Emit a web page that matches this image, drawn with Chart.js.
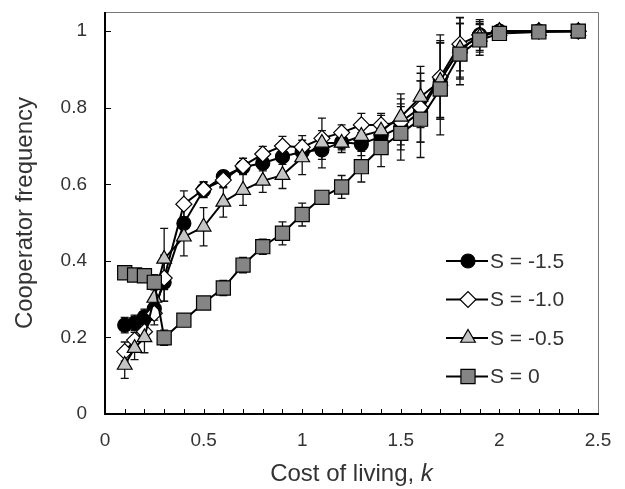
<!DOCTYPE html>
<html>
<head>
<meta charset="utf-8">
<script src="https://cdn.jsdelivr.net/npm/chart.js@4/dist/chart.umd.min.js"></script>
<style>
  html, body { margin: 0; padding: 0; background: #fff; }
</style>
</head>
<body>
<canvas id="chart" width="625" height="489"></canvas>
<script>
const costs = [0.1, 0.15, 0.2, 0.25, 0.3, 0.4, 0.5, 0.6, 0.7, 0.8, 0.9, 1.0, 1.1, 1.2, 1.3, 1.4, 1.5, 1.6, 1.7, 1.8, 1.9, 2.0, 2.2, 2.4];

const freqS15 = [0.232, 0.238, 0.254, 0.275, 0.344, 0.498, 0.585, 0.62, 0.645, 0.655, 0.672, 0.685, 0.69, 0.71, 0.705, 0.725, 0.75, 0.79, 0.875, 0.95, 0.99, 1.0, 1.0, 1.0];
const freqS10 = [0.163, 0.193, 0.215, 0.263, 0.355, 0.548, 0.587, 0.611, 0.648, 0.679, 0.70, 0.697, 0.72, 0.735, 0.755, 0.755, 0.763, 0.80, 0.88, 0.966, 0.99, 1.0, 1.0, 1.0];
const freqS05 = [0.128, 0.172, 0.20, 0.303, 0.405, 0.463, 0.489, 0.554, 0.585, 0.609, 0.624, 0.67, 0.708, 0.708, 0.726, 0.74, 0.776, 0.828, 0.87, 0.955, 0.985, 1.0, 1.0, 1.0];
const freqS0 = [0.369, 0.363, 0.361, 0.344, 0.199, 0.245, 0.29, 0.329, 0.389, 0.437, 0.472, 0.521, 0.566, 0.593, 0.646, 0.696, 0.733, 0.77, 0.849, 0.94, 0.977, 0.994, 0.998, 1.0];

const errS15 = [0.02, 0.02, 0.02, 0.03, 0.05, 0.04, 0.02, 0.015, 0.015, 0.02, 0.02, 0.02, 0.025, 0.02, 0.03, 0.03, 0.06, 0.08, 0.1, 0.07, 0.03, 0.005, 0, 0];
const errS10 = [0.025, 0.02, 0.025, 0.03, 0.06, 0.035, 0.02, 0.02, 0.02, 0.02, 0.025, 0.03, 0.02, 0.02, 0.03, 0.03, 0.06, 0.09, 0.11, 0.07, 0.04, 0.005, 0, 0];
const errS05 = [0.035, 0.03, 0.04, 0.05, 0.08, 0.05, 0.05, 0.04, 0.04, 0.03, 0.035, 0.045, 0.065, 0.025, 0.03, 0.04, 0.06, 0.08, 0.1, 0.08, 0.04, 0.005, 0, 0];
const errS0 = [0.01, 0.01, 0.01, 0.02, 0.02, 0.01, 0.015, 0.02, 0.02, 0.02, 0.03, 0.03, 0.01, 0.03, 0.04, 0.05, 0.07, 0.1, 0.12, 0.08, 0.04, 0.005, 0, 0];

const seriesLabels = ["S = -1.5", "S = -1.0", "S = -0.5", "S = 0"];
const xTicks = [0, 0.5, 1, 1.5, 2, 2.5];
const yTicks = [0, 0.2, 0.4, 0.6, 0.8, 1];

const FONT = "'Liberation Sans', Arial, sans-serif";
const TEXT = "#333";

function makeSet(label, values, errors, style, fill, radius, order) {
  return {
    label,
    data: costs.map((k, i) => ({ x: k, y: values[i] })),
    errors,
    showLine: true,
    borderColor: "#000",
    borderWidth: 2,
    pointStyle: style,
    pointRadius: radius,
    pointBackgroundColor: fill,
    pointBorderColor: "#000",
    pointBorderWidth: 1.2,
    order,
  };
}

const datasets = [
  makeSet(seriesLabels[0], freqS15, errS15, "circle", "#000", 7, 4),
  makeSet(seriesLabels[1], freqS10, errS10, "rectRot", "#fff", 8, 3),
  makeSet(seriesLabels[2], freqS05, errS05, "triangle", "#c4c4c4", 8.5, 2),
  makeSet(seriesLabels[3], freqS0, errS0, "rect", "#858585", 10, 1),
];

function marker(ctx, ds, x, y) {
  ctx.save();
  ctx.fillStyle = ds.pointBackgroundColor;
  ctx.strokeStyle = "#000";
  ctx.lineWidth = ds.pointBorderWidth;
  Chart.helpers.drawPoint(ctx, {
    pointStyle: ds.pointStyle,
    radius: ds.pointRadius,
    rotation: 0,
    borderWidth: ds.pointBorderWidth,
  }, x, y);
  ctx.restore();
}

const decorations = {
  id: "decorations",
  beforeDatasetsDraw(chart) {
    const { ctx, scales: { x, y } } = chart;
    ctx.save();
    ctx.strokeStyle = "#111";
    ctx.lineWidth = 1.3;
    chart.data.datasets.forEach((ds) => {
      ds.data.forEach((p, i) => {
        const e = ds.errors[i];
        if (!e) return;
        const px = x.getPixelForValue(p.x);
        const top = y.getPixelForValue(p.y + e);
        const bot = y.getPixelForValue(p.y - e);
        ctx.beginPath();
        ctx.moveTo(px, top); ctx.lineTo(px, bot);
        ctx.moveTo(px - 4, top); ctx.lineTo(px + 4, top);
        ctx.moveTo(px - 4, bot); ctx.lineTo(px + 4, bot);
        ctx.stroke();
      });
    });
    ctx.restore();
  },
  afterDraw(chart) {
    const { ctx, chartArea: a, scales: { x, y } } = chart;
    ctx.save();
    // thin top/right frame
    ctx.strokeStyle = "#777";
    ctx.lineWidth = 1;
    ctx.beginPath();
    ctx.moveTo(a.left, a.top + 0.5); ctx.lineTo(a.right + 0.5, a.top + 0.5); ctx.lineTo(a.right + 0.5, a.bottom);
    ctx.stroke();
    // heavy left/bottom axes
    ctx.strokeStyle = "#000";
    ctx.lineWidth = 2;
    ctx.beginPath();
    ctx.moveTo(a.left, a.top); ctx.lineTo(a.left, a.bottom); ctx.lineTo(a.right + 1, a.bottom);
    ctx.stroke();
    // inward ticks
    ctx.lineWidth = 1;
    ctx.beginPath();
    yTicks.forEach((v) => {
      const py = Math.round(y.getPixelForValue(v)) + 0.5;
      ctx.moveTo(a.left, py); ctx.lineTo(a.left + 6, py);
    });
    for (let i = 1; i < 25; i++) {
      const px = Math.round(x.getPixelForValue(i / 10)) + 0.5;
      ctx.moveTo(px, a.bottom); ctx.lineTo(px, a.bottom - 5);
    }
    ctx.stroke();
    // legend
    ctx.font = "21px " + FONT;
    ctx.textBaseline = "middle";
    chart.data.datasets.forEach((ds, i) => {
      const ly = a.top + 249 + i * 38.5;
      const lx = a.right - 152;
      ctx.strokeStyle = "#000";
      ctx.lineWidth = 2;
      ctx.beginPath();
      ctx.moveTo(lx, ly); ctx.lineTo(lx + 42, ly);
      ctx.stroke();
      marker(ctx, ds, lx + 22, ly);
      ctx.fillStyle = TEXT;
      ctx.fillText(ds.label, lx + 44, ly + 1);
    });
    // x title with italic k
    const t1 = "Cost of living, ";
    const t2 = "k";
    ctx.font = "24px " + FONT;
    const w1 = ctx.measureText(t1).width;
    ctx.font = "italic 24px " + FONT;
    const w2 = ctx.measureText(t2).width;
    const cx = (a.left + a.right) / 2;
    const ty = 474;
    ctx.fillStyle = TEXT;
    ctx.font = "24px " + FONT;
    ctx.fillText(t1, cx - (w1 + w2) / 2, ty);
    ctx.font = "italic 24px " + FONT;
    ctx.fillText(t2, cx - (w1 + w2) / 2 + w1, ty);
    ctx.restore();
  },
};

new Chart(document.getElementById("chart"), {
  type: "scatter",
  data: { datasets },
  options: {
    responsive: false,
    animation: false,
    devicePixelRatio: 1,
    layout: { padding: { top: 12, right: 27, bottom: 0, left: 0 } },
    plugins: { legend: { display: false }, tooltip: { enabled: false } },
    scales: {
      x: {
        type: "linear",
        min: 0,
        max: 2.5,
        afterBuildTicks: (s) => { s.ticks = xTicks.map((v) => ({ value: v })); },
        afterFit: (s) => { s.height = 75; s.paddingLeft = 0; s.paddingRight = 0; },
        grid: { display: false, drawTicks: false },
        border: { display: false },
        ticks: {
          padding: 15,
          maxRotation: 0,
          autoSkip: false,
          color: TEXT,
          font: { family: FONT, size: 19 },
          callback: (v) => String(v),
        },
      },
      y: {
        type: "linear",
        min: 0,
        max: 1.05,
        afterBuildTicks: (s) => { s.ticks = yTicks.map((v) => ({ value: v })); },
        afterFit: (s) => { s.width = 105; s.paddingTop = 0; s.paddingBottom = 0; },
        grid: { display: false, drawTicks: false },
        border: { display: false },
        title: {
          display: true,
          text: "Cooperator frequency",
          color: TEXT,
          font: { family: FONT, size: 24 },
          padding: { top: 11, bottom: 0 },
        },
        ticks: {
          padding: 18,
          color: TEXT,
          font: { family: FONT, size: 19 },
          callback: (v) => String(v),
        },
      },
    },
  },
  plugins: [decorations],
});
</script>
</body>
</html>
